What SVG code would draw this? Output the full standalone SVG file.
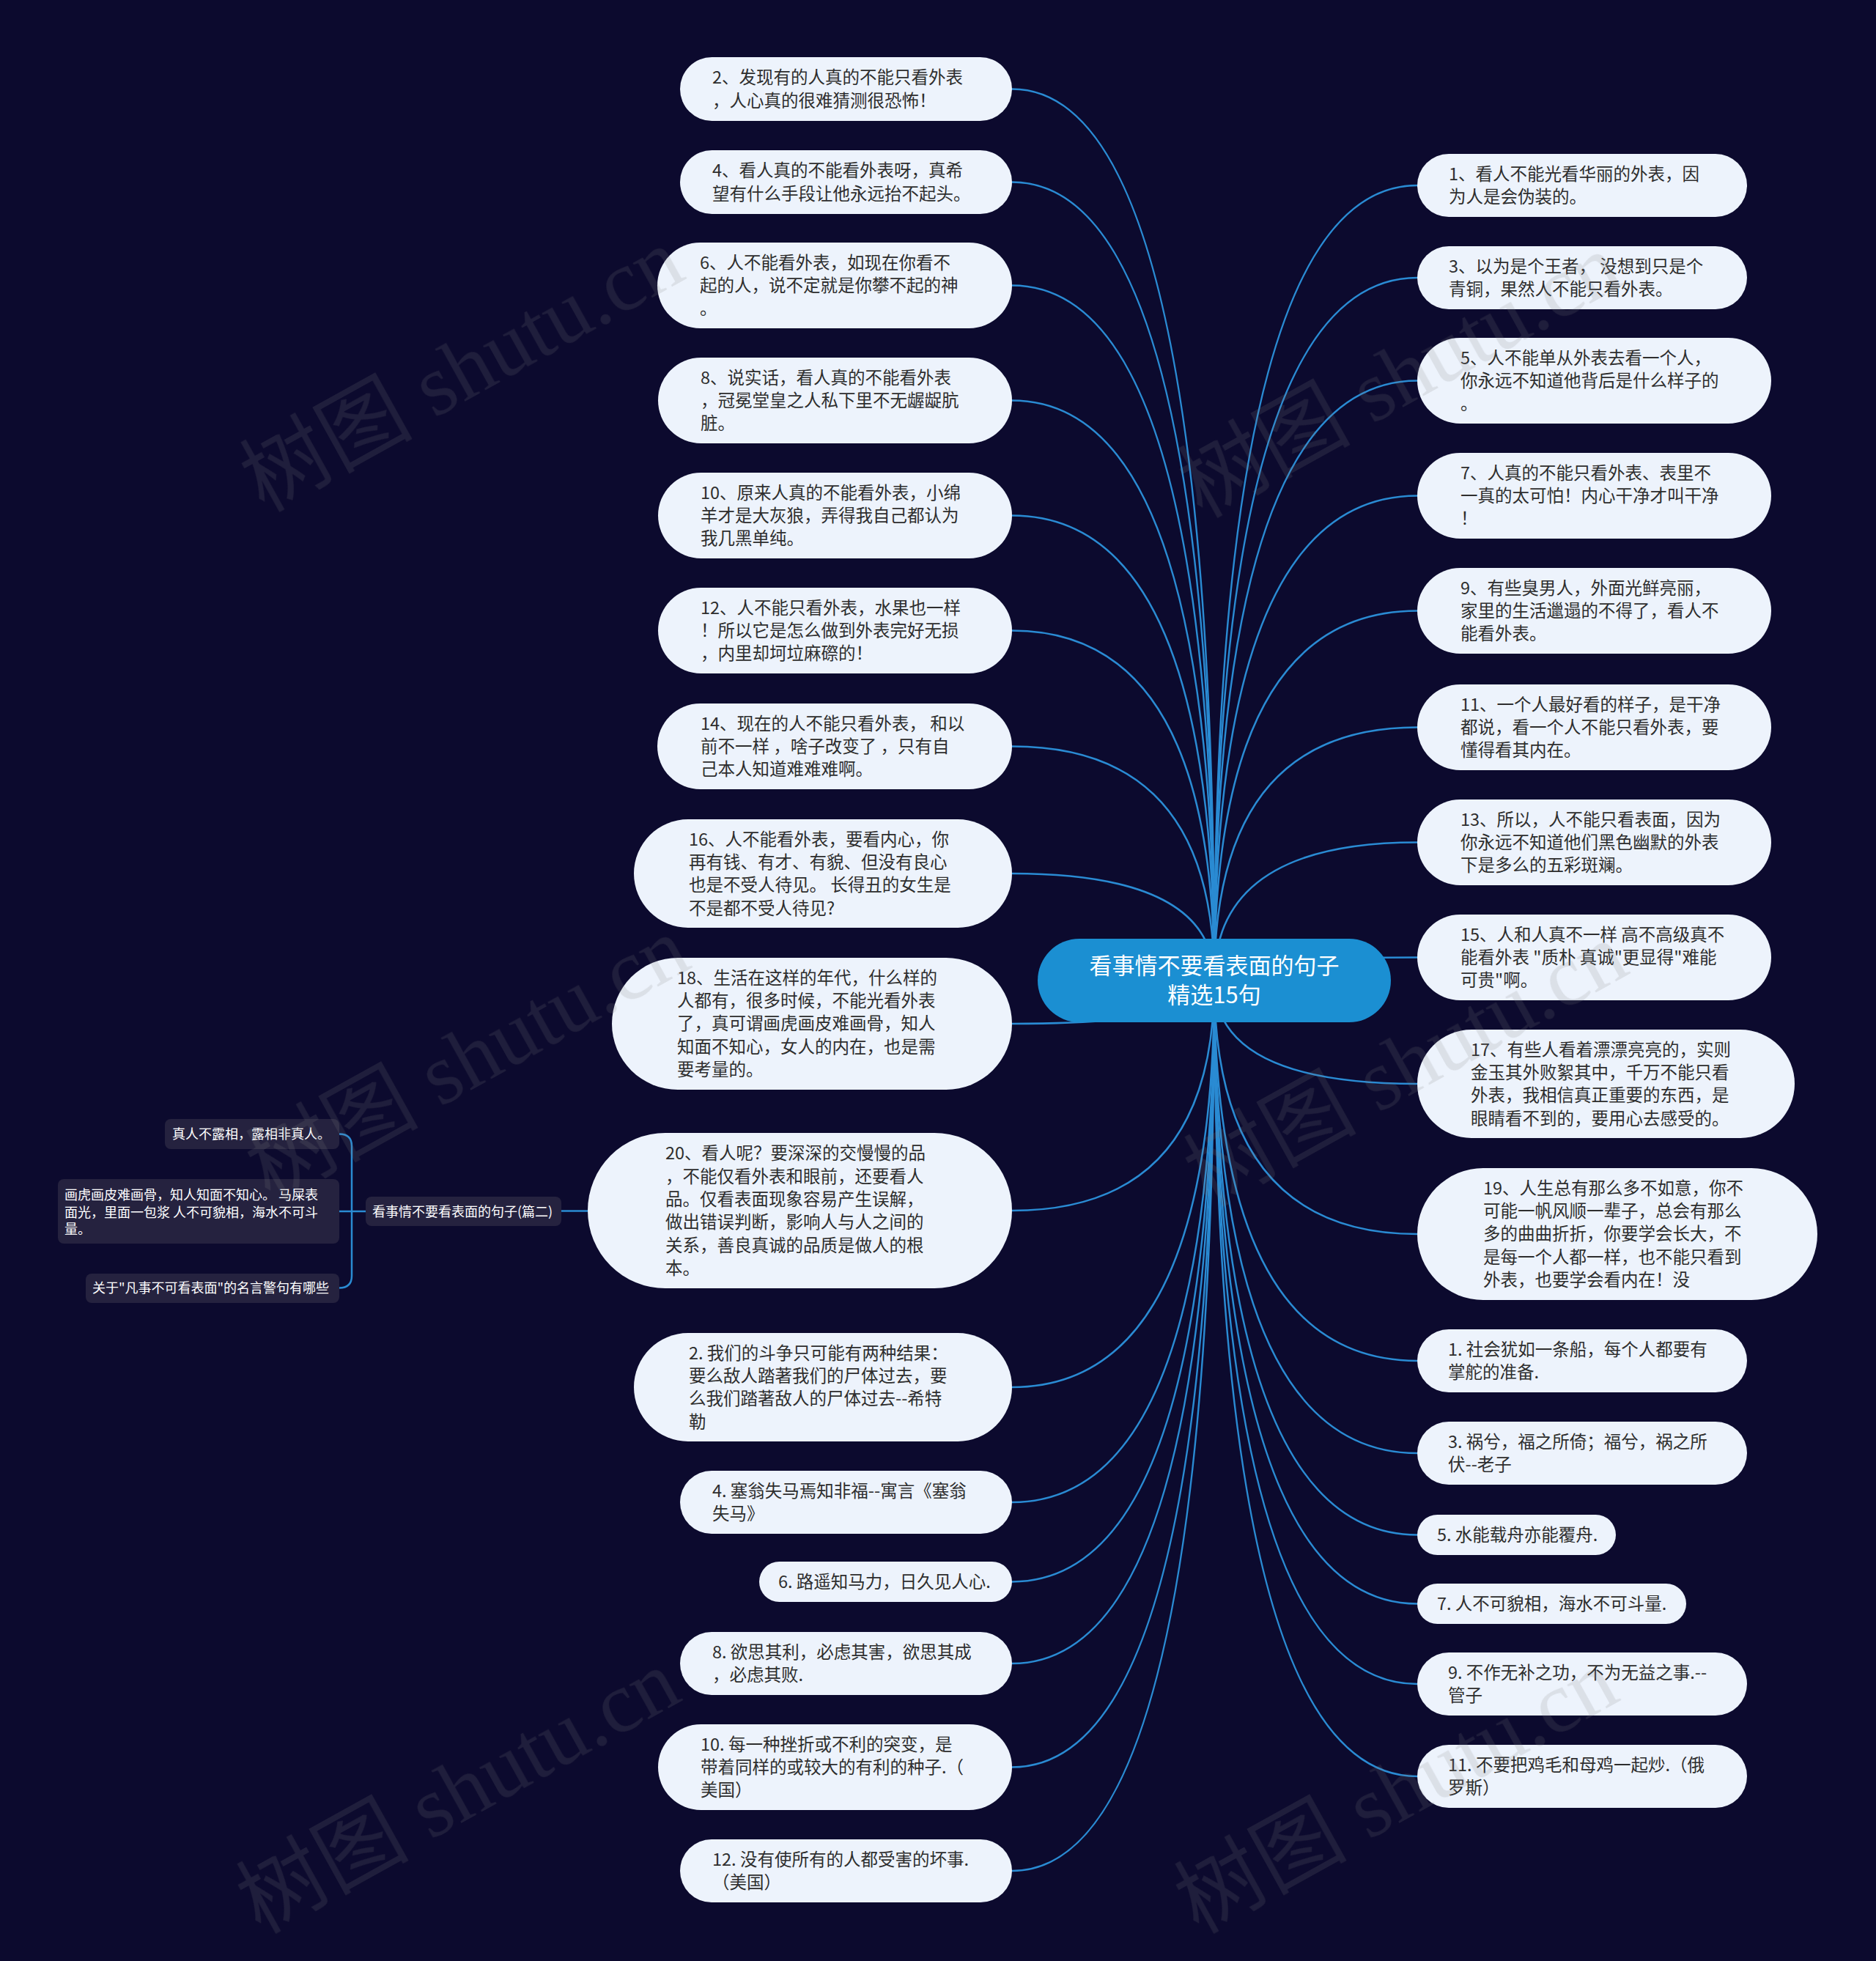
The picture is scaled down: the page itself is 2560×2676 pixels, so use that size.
<svg xmlns="http://www.w3.org/2000/svg" width="2560" height="2676" viewBox="0 0 2560 2676">
<style>
.leaf{fill:#edf3fc}
.lt{font-family:"Noto Sans CJK SC","Noto Sans",sans-serif;font-size:23.5px;fill:#2e2e2e}
.conn{fill:none;stroke:#2a8bd3;stroke-width:2.5}
.sub{fill:#25223f}
.st{font-family:"Noto Sans CJK SC","Noto Sans",sans-serif;font-size:18px;fill:#ffffff}
.wm{font-family:"Liberation Serif","Noto Sans CJK SC",serif;font-size:118px;fill:#808080;opacity:0.17}
</style>
<rect x="0" y="0" width="2560" height="2676" fill="#0c0a2e"/>
<g id="connectors">
<path class="conn" d="M1381 121.5 Q1657 121.5 1657 1338"/>
<path class="conn" d="M1381 248.5 Q1657 248.5 1657 1338"/>
<path class="conn" d="M1381 389.5 Q1657 389.5 1657 1338"/>
<path class="conn" d="M1381 546.5 Q1657 546.5 1657 1338"/>
<path class="conn" d="M1381 703.5 Q1657 703.5 1657 1338"/>
<path class="conn" d="M1381 860.5 Q1657 860.5 1657 1338"/>
<path class="conn" d="M1381 1018.5 Q1657 1018.5 1657 1338"/>
<path class="conn" d="M1381 1192 Q1657 1192 1657 1338"/>
<path class="conn" d="M1381 1397 Q1657 1397 1657 1338"/>
<path class="conn" d="M1381 1652 Q1657 1652 1657 1338"/>
<path class="conn" d="M1381 1893 Q1657 1893 1657 1338"/>
<path class="conn" d="M1381 2050 Q1657 2050 1657 1338"/>
<path class="conn" d="M1381 2158.5 Q1657 2158.5 1657 1338"/>
<path class="conn" d="M1381 2270 Q1657 2270 1657 1338"/>
<path class="conn" d="M1381 2411.5 Q1657 2411.5 1657 1338"/>
<path class="conn" d="M1381 2553 Q1657 2553 1657 1338"/>
<path class="conn" d="M1934 253 Q1657 253 1657 1338"/>
<path class="conn" d="M1934 379 Q1657 379 1657 1338"/>
<path class="conn" d="M1934 519.5 Q1657 519.5 1657 1338"/>
<path class="conn" d="M1934 676.5 Q1657 676.5 1657 1338"/>
<path class="conn" d="M1934 833.5 Q1657 833.5 1657 1338"/>
<path class="conn" d="M1934 992.5 Q1657 992.5 1657 1338"/>
<path class="conn" d="M1934 1149.5 Q1657 1149.5 1657 1338"/>
<path class="conn" d="M1934 1306.5 Q1657 1306.5 1657 1338"/>
<path class="conn" d="M1934 1479 Q1657 1479 1657 1338"/>
<path class="conn" d="M1934 1684 Q1657 1684 1657 1338"/>
<path class="conn" d="M1934 1857 Q1657 1857 1657 1338"/>
<path class="conn" d="M1934 1983 Q1657 1983 1657 1338"/>
<path class="conn" d="M1934 2094.5 Q1657 2094.5 1657 1338"/>
<path class="conn" d="M1934 2188.5 Q1657 2188.5 1657 1338"/>
<path class="conn" d="M1934 2298 Q1657 2298 1657 1338"/>
<path class="conn" d="M1934 2424 Q1657 2424 1657 1338"/>
<path class="conn" d="M802 1652.5 H766"/>
<path class="conn" stroke-width="3.5" d="M499 1653 H463 M463 1547.5 Q480 1547.5 480 1564 V1741 Q480 1757.5 463 1757.5"/>
</g>
<g id="center">
<rect x="1416" y="1281" width="482" height="114" rx="57" fill="#1b8fd2"/>
<text x="1657" y="1329" text-anchor="middle" font-family="Noto Sans CJK SC, Noto Sans, sans-serif" font-size="31" fill="#ffffff">看事情不要看表面的句子</text>
<text x="1657" y="1369" text-anchor="middle" font-family="Noto Sans CJK SC, Noto Sans, sans-serif" font-size="31" fill="#ffffff">精选15句</text>
</g>
<g id="L1"><rect class="leaf" x="928" y="78" width="453" height="87" rx="43.5"/><text class="lt"><tspan x="972" y="114">2、发现有的人真的不能只看外表</tspan><tspan x="972" y="146">，人心真的很难猜测很恐怖！</tspan></text></g>
<g id="L2"><rect class="leaf" x="928" y="205" width="453" height="87" rx="43.5"/><text class="lt"><tspan x="972" y="241">4、看人真的不能看外表呀，真希</tspan><tspan x="972" y="273">望有什么手段让他永远抬不起头。</tspan></text></g>
<g id="L3"><rect class="leaf" x="897" y="331" width="484" height="117" rx="58.5"/><text class="lt"><tspan x="955" y="367">6、人不能看外表，如现在你看不</tspan><tspan x="955" y="398">起的人，说不定就是你攀不起的神</tspan><tspan x="955" y="429">。</tspan></text></g>
<g id="L4"><rect class="leaf" x="898" y="488" width="483" height="117" rx="58.5"/><text class="lt"><tspan x="956" y="524">8、说实话，看人真的不能看外表</tspan><tspan x="956" y="555">，冠冕堂皇之人私下里不无龌龊肮</tspan><tspan x="956" y="586">脏。</tspan></text></g>
<g id="L5"><rect class="leaf" x="898" y="645" width="483" height="117" rx="58.5"/><text class="lt"><tspan x="956" y="681">10、原来人真的不能看外表，小绵</tspan><tspan x="956" y="712">羊才是大灰狼，弄得我自己都认为</tspan><tspan x="956" y="743">我几黑单纯。</tspan></text></g>
<g id="L6"><rect class="leaf" x="898" y="802" width="483" height="117" rx="58.5"/><text class="lt"><tspan x="956" y="838">12、人不能只看外表，水果也一样</tspan><tspan x="956" y="869">！所以它是怎么做到外表完好无损</tspan><tspan x="956" y="900">，内里却坷垃麻磜的！</tspan></text></g>
<g id="L7"><rect class="leaf" x="897" y="960" width="484" height="117" rx="58.5"/><text class="lt"><tspan x="956" y="996">14、现在的人不能只看外表， 和以</tspan><tspan x="956" y="1027">前不一样 ，啥子改变了 ，只有自</tspan><tspan x="956" y="1058">己本人知道难难难啊。</tspan></text></g>
<g id="L8"><rect class="leaf" x="865" y="1118" width="516" height="148" rx="74"/><text class="lt"><tspan x="940" y="1154">16、人不能看外表，要看内心，你</tspan><tspan x="940" y="1185">再有钱、有才、有貌、但没有良心</tspan><tspan x="940" y="1216">也是不受人待见。 长得丑的女生是</tspan><tspan x="940" y="1248">不是都不受人待见?</tspan></text></g>
<g id="L9"><rect class="leaf" x="835" y="1307" width="546" height="180" rx="90"/><text class="lt"><tspan x="924" y="1343">18、生活在这样的年代，什么样的</tspan><tspan x="924" y="1374">人都有，很多时候，不能光看外表</tspan><tspan x="924" y="1405">了，真可谓画虎画皮难画骨，知人</tspan><tspan x="924" y="1437">知面不知心，女人的内在，也是需</tspan><tspan x="924" y="1468">要考量的。</tspan></text></g>
<g id="L10"><rect class="leaf" x="802" y="1546" width="579" height="212" rx="106"/><text class="lt"><tspan x="908" y="1582">20、看人呢？要深深的交慢慢的品</tspan><tspan x="908" y="1614">，不能仅看外表和眼前，还要看人</tspan><tspan x="908" y="1645">品。仅看表面现象容易产生误解，</tspan><tspan x="908" y="1676">做出错误判断，影响人与人之间的</tspan><tspan x="908" y="1708">关系，善良真诚的品质是做人的根</tspan><tspan x="908" y="1739">本。</tspan></text></g>
<g id="L11"><rect class="leaf" x="865" y="1819" width="516" height="148" rx="74"/><text class="lt"><tspan x="940" y="1855">2. 我们的斗争只可能有两种结果：</tspan><tspan x="940" y="1886">要么敌人踏著我们的尸体过去，要</tspan><tspan x="940" y="1917">么我们踏著敌人的尸体过去--希特</tspan><tspan x="940" y="1949">勒</tspan></text></g>
<g id="L12"><rect class="leaf" x="928" y="2007" width="453" height="86" rx="43"/><text class="lt"><tspan x="972" y="2043">4. 塞翁失马焉知非福--寓言《塞翁</tspan><tspan x="972" y="2074">失马》</tspan></text></g>
<g id="L13"><rect class="leaf" x="1036" y="2131" width="345" height="55" rx="27.5"/><text class="lt"><tspan x="1062" y="2167">6. 路遥知马力，日久见人心.</tspan></text></g>
<g id="L14"><rect class="leaf" x="928" y="2227" width="453" height="86" rx="43"/><text class="lt"><tspan x="972" y="2263">8. 欲思其利，必虑其害，欲思其成</tspan><tspan x="972" y="2294">，必虑其败.</tspan></text></g>
<g id="L15"><rect class="leaf" x="898" y="2353" width="483" height="117" rx="58.5"/><text class="lt"><tspan x="956" y="2389">10. 每一种挫折或不利的突变，是</tspan><tspan x="956" y="2420">带着同样的或较大的有利的种子.（</tspan><tspan x="956" y="2451">美国）</tspan></text></g>
<g id="L16"><rect class="leaf" x="928" y="2510" width="453" height="86" rx="43"/><text class="lt"><tspan x="972" y="2546">12. 没有使所有的人都受害的坏事.</tspan><tspan x="972" y="2577">（美国）</tspan></text></g>
<g id="R1"><rect class="leaf" x="1934" y="210" width="450" height="86" rx="43"/><text class="lt"><tspan x="1977" y="246">1、看人不能光看华丽的外表，因</tspan><tspan x="1977" y="277">为人是会伪装的。</tspan></text></g>
<g id="R2"><rect class="leaf" x="1934" y="336" width="450" height="86" rx="43"/><text class="lt"><tspan x="1977" y="372">3、以为是个王者，  没想到只是个</tspan><tspan x="1977" y="403">青铜，果然人不能只看外表。</tspan></text></g>
<g id="R3"><rect class="leaf" x="1934" y="461" width="483" height="117" rx="58.5"/><text class="lt"><tspan x="1993" y="497">5、人不能单从外表去看一个人，</tspan><tspan x="1993" y="528">你永远不知道他背后是什么样子的</tspan><tspan x="1993" y="559">。</tspan></text></g>
<g id="R4"><rect class="leaf" x="1934" y="618" width="483" height="117" rx="58.5"/><text class="lt"><tspan x="1993" y="654">7、人真的不能只看外表、表里不</tspan><tspan x="1993" y="685">一真的太可怕！内心干净才叫干净</tspan><tspan x="1993" y="716">！</tspan></text></g>
<g id="R5"><rect class="leaf" x="1934" y="775" width="483" height="117" rx="58.5"/><text class="lt"><tspan x="1993" y="811">9、有些臭男人，外面光鲜亮丽，</tspan><tspan x="1993" y="842">家里的生活邋遢的不得了，看人不</tspan><tspan x="1993" y="873">能看外表。</tspan></text></g>
<g id="R6"><rect class="leaf" x="1934" y="934" width="483" height="117" rx="58.5"/><text class="lt"><tspan x="1993" y="970">11、一个人最好看的样子，是干净</tspan><tspan x="1993" y="1001">都说，看一个人不能只看外表，要</tspan><tspan x="1993" y="1032">懂得看其内在。</tspan></text></g>
<g id="R7"><rect class="leaf" x="1934" y="1091" width="483" height="117" rx="58.5"/><text class="lt"><tspan x="1993" y="1127">13、所以，人不能只看表面，因为</tspan><tspan x="1993" y="1158">你永远不知道他们黑色幽默的外表</tspan><tspan x="1993" y="1189">下是多么的五彩斑斓。</tspan></text></g>
<g id="R8"><rect class="leaf" x="1934" y="1248" width="483" height="117" rx="58.5"/><text class="lt"><tspan x="1993" y="1284">15、人和人真不一样 高不高级真不</tspan><tspan x="1993" y="1315">能看外表 "质朴 真诚"更显得"难能</tspan><tspan x="1993" y="1346">可贵"啊。</tspan></text></g>
<g id="R9"><rect class="leaf" x="1934" y="1405" width="515" height="148" rx="74"/><text class="lt"><tspan x="2007" y="1441">17、有些人看着漂漂亮亮的，实则</tspan><tspan x="2007" y="1472">金玉其外败絮其中，千万不能只看</tspan><tspan x="2007" y="1503">外表，我相信真正重要的东西，是</tspan><tspan x="2007" y="1535">眼睛看不到的，要用心去感受的。</tspan></text></g>
<g id="R10"><rect class="leaf" x="1934" y="1594" width="546" height="180" rx="90"/><text class="lt"><tspan x="2024" y="1630">19、人生总有那么多不如意，你不</tspan><tspan x="2024" y="1661">可能一帆风顺一辈子，总会有那么</tspan><tspan x="2024" y="1692">多的曲曲折折，你要学会长大，不</tspan><tspan x="2024" y="1724">是每一个人都一样，也不能只看到</tspan><tspan x="2024" y="1755">外表，也要学会看内在！没</tspan></text></g>
<g id="R11"><rect class="leaf" x="1934" y="1814" width="450" height="86" rx="43"/><text class="lt"><tspan x="1976" y="1850">1. 社会犹如一条船，每个人都要有</tspan><tspan x="1976" y="1881">掌舵的准备.</tspan></text></g>
<g id="R12"><rect class="leaf" x="1934" y="1940" width="450" height="86" rx="43"/><text class="lt"><tspan x="1976" y="1976">3. 祸兮，福之所倚；福兮，祸之所</tspan><tspan x="1976" y="2007">伏--老子</tspan></text></g>
<g id="R13"><rect class="leaf" x="1934" y="2067" width="271" height="55" rx="27.5"/><text class="lt"><tspan x="1961" y="2103">5. 水能载舟亦能覆舟.</tspan></text></g>
<g id="R14"><rect class="leaf" x="1934" y="2161" width="367" height="55" rx="27.5"/><text class="lt"><tspan x="1961" y="2197">7. 人不可貌相，海水不可斗量.</tspan></text></g>
<g id="R15"><rect class="leaf" x="1934" y="2255" width="450" height="86" rx="43"/><text class="lt"><tspan x="1976" y="2291">9. 不作无补之功，不为无益之事.--</tspan><tspan x="1976" y="2322">管子</tspan></text></g>
<g id="R16"><rect class="leaf" x="1934" y="2381" width="450" height="86" rx="43"/><text class="lt"><tspan x="1976" y="2417">11. 不要把鸡毛和母鸡一起炒.（俄</tspan><tspan x="1976" y="2448">罗斯）</tspan></text></g>
<g id="P2"><rect class="sub" x="499" y="1633" width="267" height="40" rx="8"/><text class="st" x="508" y="1660">看事情不要看表面的句子(篇二)</text></g>
<g id="S1"><rect class="sub" x="225" y="1527" width="238" height="41" rx="8"/><text class="st" x="235" y="1554">真人不露相，露相非真人。</text></g>
<g id="S2"><rect class="sub" x="79" y="1609" width="384" height="88" rx="8"/><text class="st"><tspan x="88" y="1637">画虎画皮难画骨，知人知面不知心。 马屎表</tspan><tspan x="88" y="1661">面光，里面一包浆 人不可貌相，海水不可斗</tspan><tspan x="88" y="1684">量。</tspan></text></g>
<g id="S3"><rect class="sub" x="117" y="1738" width="346" height="40" rx="8"/><text class="st" x="126" y="1764">关于"凡事不可看表面"的名言警句有哪些</text></g>
<g id="watermark" class="wm">
<text transform="translate(360 700) rotate(-29)">树图 shutu.cn</text>
<text transform="translate(1640 708) rotate(-29)">树图 shutu.cn</text>
<text transform="translate(368 1640) rotate(-29)">树图 shutu.cn</text>
<text transform="translate(1648 1648) rotate(-29)">树图 shutu.cn</text>
<text transform="translate(355 2640) rotate(-29)">树图 shutu.cn</text>
<text transform="translate(1635 2640) rotate(-29)">树图 shutu.cn</text>
</g>
</svg>
